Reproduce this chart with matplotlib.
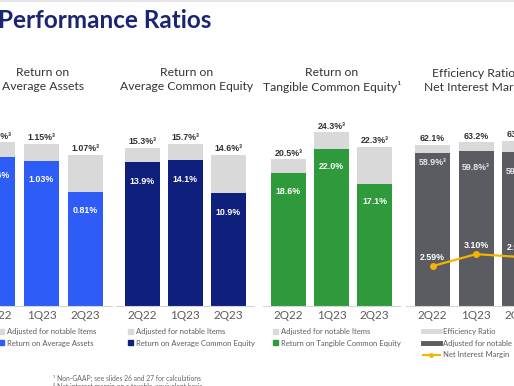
import matplotlib
matplotlib.use("Agg")
import matplotlib.pyplot as plt
from matplotlib.patches import Patch
from matplotlib.lines import Line2D

# ---------------- data ----------------
quarters = ["2Q22", "1Q23", "2Q23"]

roaa = [1.06, 1.03, 0.81]
roaa_adj = [1.16, 1.15, 1.07]

roace = [13.9, 14.1, 10.9]
roace_adj = [15.3, 15.7, 14.6]

rotce = [18.6, 22.0, 17.1]
rotce_adj = [20.5, 24.3, 22.3]

eff_ratio = [62.1, 63.2, 63.7]
eff_adj = [58.9, 59.8, 59.5]
nim = [2.59, 3.10, 2.98]

# ---------------- style ----------------
W, H = 514, 386
LIGHT = "#d9d9d9"
BLUE = "#2d5cf6"
NAVY = "#0f1f7c"
GREEN = "#2f9a3c"
DARK = "#5b5b62"
GOLD = "#f4b400"
TXT = "#333333"
TICK = "#5c5c5c"
VAL_FONT = ["Liberation Sans", "DejaVu Sans"]
TXT_FONT = ["Lato", "DejaVu Sans"]

fig = plt.figure(figsize=(W / 100, H / 100), dpi=100)
fig.patch.set_facecolor("white")


def fx(px):
    return px / W


def fy(py):
    return 1 - py / H


BASE = 306
AX_H = 180


def make_ax(c0, s):
    left = c0 - 0.6 * s
    ax = fig.add_axes([fx(left), fy(BASE), 3.2 * s / W, AX_H / H])
    ax.set_xlim(-0.6, 2.6)
    for sp in ["top", "right", "left"]:
        ax.spines[sp].set_visible(False)
    ax.spines["bottom"].set_color("#d4d4d4")
    ax.spines["bottom"].set_linewidth(0.8)
    ax.set_yticks([])
    ax.set_xticks(range(len(quarters)))
    ax.set_xticklabels(quarters, fontsize=8.5, color=TICK, family=TXT_FONT)
    ax.tick_params(axis="x", length=0, pad=3.0)
    ax.patch.set_alpha(0)
    return ax


def stacked_panel(c0, s, base_vals, adj_vals, color, ppu):
    ax = make_ax(c0, s)
    ax.set_ylim(0, AX_H / ppu)
    bw = 35 / s
    x = list(range(len(quarters)))
    ax.bar(x, adj_vals, width=bw, color=LIGHT, zorder=1)
    ax.bar(x, base_vals, width=bw, color=color, zorder=2)
    return ax, x


def add_title(cx, lines, y0=73):
    for i, t in enumerate(lines):
        fig.text(fx(cx), fy(y0 + 14 * i), t, ha="center", va="center",
                 fontsize=8.7, color=TXT, family=TXT_FONT)


def add_legend(ax, handles, labels, x, hl=0.6):
    ax.legend(handles, labels, loc="upper left",
              bbox_to_anchor=(fx(x), fy(328)), bbox_transform=fig.transFigure,
              frameon=False, handlelength=hl, handleheight=0.65,
              handletextpad=0.4, labelspacing=0.6, borderpad=0, borderaxespad=0,
              labelcolor=TICK, prop={"family": TXT_FONT, "size": 5.5})


def label_bars(ax, x, base_vals, adj_vals, fmt, inner_off):
    for xi, b, a in zip(x, base_vals, adj_vals):
        ax.annotate(fmt.format(a) + "%\u00b3", (xi, a), xytext=(0, 1.2),
                    textcoords="offset points", ha="center", va="bottom",
                    fontsize=6.4, fontweight="bold", color=TXT, family=VAL_FONT)
        ax.annotate(fmt.format(b) + "%", (xi, b), xytext=(0, -inner_off * 0.72),
                    textcoords="offset points", ha="center", va="center",
                    fontsize=6.4, fontweight="bold", color="white", family=VAL_FONT)


# ---------- Panel 1: ROAA ----------
ax1, x = stacked_panel(-2.5, 44, roaa, roaa_adj, BLUE, 141)
label_bars(ax1, x, roaa, roaa_adj, "{:.2f}", 19)
add_title(43, ["Return on", "Average Assets"])
add_legend(ax1, [Patch(color=LIGHT), Patch(color=BLUE)],
           ["Adjusted for notable Items", "Return on Average Assets"], -1)

# ---------- Panel 2: ROACE ----------
ax2, x = stacked_panel(142, 43, roace, roace_adj, NAVY, 10.35)
label_bars(ax2, x, roace, roace_adj, "{:.1f}", 19)
add_title(187, ["Return on", "Average Common Equity"])
add_legend(ax2, [Patch(color=LIGHT), Patch(color=NAVY)],
           ["Adjusted for notable Items", "Return on Average Common Equity"], 128)

# ---------- Panel 3: ROTCE ----------
ax3, x = stacked_panel(288.5, 43, rotce, rotce_adj, GREEN, 7.15)
label_bars(ax3, x, rotce, rotce_adj, "{:.1f}", 18)
add_title(332, ["Return on", "Tangible Common Equity\u00b9"])
add_legend(ax3, [Patch(color=LIGHT), Patch(color=GREEN)],
           ["Adjusted for notable Items", "Return on Tangible Common Equity"], 273)

# ---------- Panel 4: Efficiency / NIM ----------
ax4, x = stacked_panel(432.5, 43.5, eff_adj, eff_ratio, DARK, 2.59)
inner_offsets = [9, 16, 20]
for xi, e, a, off in zip(x, eff_ratio, eff_adj, inner_offsets):
    ax4.annotate(f"{e:.1f}%", (xi, e), xytext=(0, 1.2), textcoords="offset points",
                 ha="center", va="bottom", fontsize=6.4, fontweight="bold",
                 color=TXT, family=VAL_FONT)
    ax4.annotate(f"{a:.1f}%\u00b3", (xi, a), xytext=(0, -off * 0.72),
                 textcoords="offset points", ha="center", va="center",
                 fontsize=6.4, fontweight="bold", color="#e8e8e8", family=VAL_FONT)

ax4b = ax4.twinx()
ax4b.set_ylim(21 / 23.5, (AX_H + 21) / 23.5)
ax4b.axis("off")
ax4b.plot(x, nim, color=GOLD, lw=1.6, marker="o", markersize=4, zorder=5)
for xi, v in zip(x, nim):
    ax4b.annotate(f"{v:.2f}%", (xi, v), xytext=(0, 6.5), textcoords="offset points",
                  ha="center", va="center", fontsize=6.4, fontweight="bold",
                  color="white", family=VAL_FONT)
fig.text(fx(476), fy(73), "Efficiency Ratio\u00b9", ha="center", va="center",
         fontsize=8.7, color=TXT, family=TXT_FONT)
fig.text(fx(424), fy(87), "Net Interest Margin\u00b2", ha="left", va="center",
         fontsize=8.7, color=TXT, family=TXT_FONT)
add_legend(ax4b,
           [Line2D([], [], color=LIGHT, lw=3.5), Line2D([], [], color=DARK, lw=3.5),
            Line2D([], [], color=GOLD, lw=1.5, marker="o", markersize=2.5)],
           ["Efficiency Ratio", "Adjusted for notable Items", "Net Interest Margin"],
           423, hl=2.2)
ax4b.get_legend().set_zorder(10)

# ---------- title, footnotes, decorations ----------
fig.text(fx(-2), fy(21), "Performance Ratios", ha="left", va="center",
         fontsize=17.5, fontweight="bold", color="#1c2573", family=TXT_FONT)
fig.text(fx(53), fy(378), "\u00b9 Non-GAAP; see slides 26 and 27 for calculations",
         ha="left", va="center", fontsize=4.9, color="#666666", family=TXT_FONT)
fig.text(fx(53), fy(386.5), "\u00b2 Net interest margin on a taxable-equivalent basis",
         ha="left", va="center", fontsize=4.9, color="#666666", family=TXT_FONT)
fig.add_artist(Line2D([0, 1], [fy(0.5), fy(0.5)], transform=fig.transFigure,
                      color="#e6e6e6", lw=1.5))

fig.savefig("out.png", dpi=100, facecolor="white")
